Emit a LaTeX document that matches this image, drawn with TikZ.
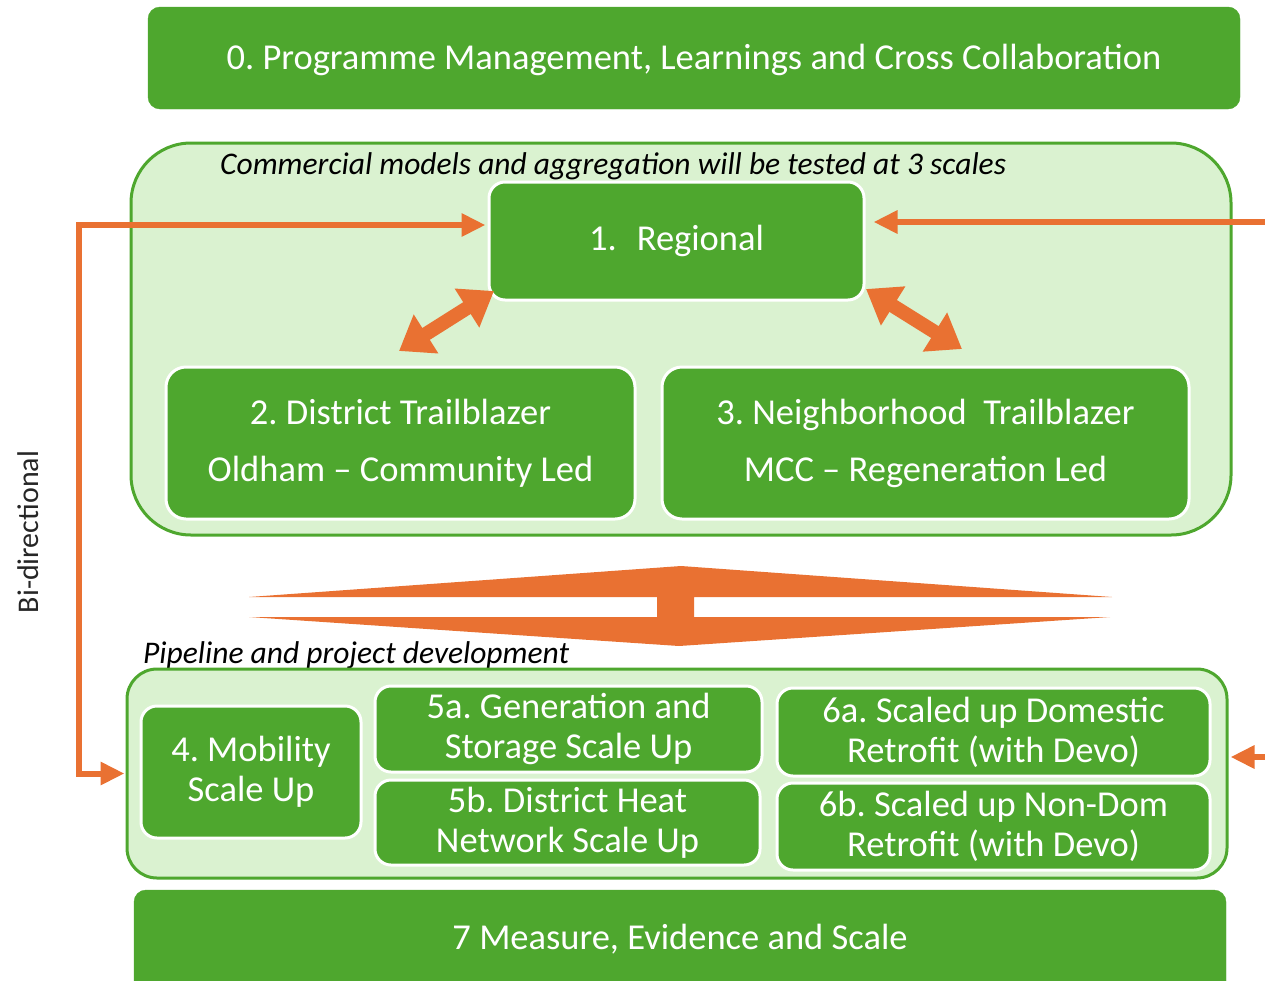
\documentclass[tikz,border=0pt]{standalone}
\usepackage{fontspec}
\setmainfont{Carlito}
\frenchspacing
\usetikzlibrary{arrows.meta,calc}
\definecolor{gmain}{HTML}{4EA72E}
\definecolor{glight}{HTML}{DAF2D0}
\definecolor{oarr}{HTML}{E97132}
\tikzset{
  gbar/.style={fill=gmain, draw=gmain, rounded corners=12pt, text=white, font=\fontsize{36.5}{40}\selectfont, inner sep=0pt},
  gbox/.style={fill=gmain, draw=white, line width=3pt, rounded corners=16pt, text=white, align=center, inner sep=0pt, font=\fontsize{36.5}{40}\selectfont},
  container/.style={fill=glight, draw=gmain, line width=3pt, inner sep=0pt},
  capt/.style={font=\fontsize{31.5}{36}\selectfont\itshape, text=black, inner sep=0pt, anchor=west},
  oline/.style={draw=oarr, line width=6pt},
  otip/.tip={Triangle[length=24pt,width=22pt]},
  fattip/.tip={Triangle[length=32pt,width=44pt]},
  fatarrow/.style={draw=oarr, line width=14pt, fattip-fattip}
}
\begin{document}
\begin{tikzpicture}[x=1pt,y=-1pt]
\useasboundingbox (0,0) rectangle (1265,980);
% top bar
\node[gbar, minimum width=1092pt, minimum height=102pt] (top) at (694,58) {};
\node[text=white, font=\fontsize{36.5}{40}\selectfont, inner sep=0pt] (topT) at (694,60) {0. Programme Management, Learnings and Cross Collaboration};
% upper container
\node[container, rounded corners=60pt, minimum width=1100pt, minimum height=392pt] (upper) at (681,339) {};
\node[capt] (captU) at (220,166) {Commercial models and aggregation will be tested at 3 scales};
\node[gbox, minimum width=375pt, minimum height=118pt] (reg) at (676.5,241) {1.\hspace{0.55em}Regional};
\node[gbox, rounded corners=20pt, minimum width=469pt, minimum height=152pt, font=\fontsize{36.5}{57}\selectfont] (dist) at (400.5,443) {2. District Trailblazer\\Oldham -- Community Led};
\node[gbox, rounded corners=20pt, minimum width=527pt, minimum height=152pt, font=\fontsize{36.5}{57}\selectfont] (neigh) at (925.5,443) {3. Neighborhood\ \ Trailblazer\\MCC -- Regeneration Led};
% fat double arrows
\coordinate (lA) at (494,291);
\coordinate (lB) at (399,351);
\coordinate (rA) at (866,289);
\coordinate (rB) at (962,349);
\draw[fatarrow] (lA) -- (lB);
\draw[fatarrow] (rA) -- (rB);
% big vertical double arrow
\fill[oarr] (681,566) -- (1112,597) -- (694,597) -- (694,617) -- (1110,617) -- (679,646) -- (249,617) -- (657,617) -- (657,597) -- (249,597) -- cycle;
% lower container
\node[capt] (captL) at (143,655) {Pipeline and project development};
\node[container, rounded corners=30pt, minimum width=1100pt, minimum height=209pt] (lower) at (677,773.5) {};
\node[gbox, minimum width=220pt, minimum height=132pt] (mob) at (251,772) {4. Mobility\\Scale Up};
\node[gbox, minimum width=387pt, minimum height=86pt] (gen) at (568.5,729) {5a. Generation and\\Storage Scale Up};
\node[gbox, minimum width=385pt, minimum height=85pt] (heat) at (567.5,822.5) {5b. District Heat\\Network Scale Up};
\node[gbox, minimum width=433pt, minimum height=88pt] (dom) at (993.5,732) {6a. Scaled up Domestic\\Retrofit (with Devo)};
\node[gbox, minimum width=433pt, minimum height=87pt] (ndom) at (993.5,826.5) {6b. Scaled up Non-Dom\\Retrofit (with Devo)};
% bottom bar
\node[gbar, minimum width=1092pt, minimum height=110pt] (bot) at (680,945) {};
\node[text=white, font=\fontsize{36.5}{40}\selectfont, inner sep=0pt] (botT) at (680,939) {7 Measure, Evidence and Scale};
% orange connectors
\draw[oline, otip-otip, line join=miter] ([yshift=16pt,xshift=-2pt]reg.west) -| ($(lower.west)+(-47,0)$) -- ([xshift=-1pt]lower.west);
\coordinate (eR1) at (1270,222);
\coordinate (eR2) at (1270,757);
\draw[oline, -otip] (eR1) -- ([yshift=19pt,xshift=8pt]reg.east);
\draw[oline, -otip] (eR2) -- ([yshift=16.5pt,xshift=2pt]lower.east);
% side label
\node[rotate=90, font=\fontsize{30}{34}\selectfont, text=black!85, inner sep=0pt] (bidir) at (28,532) {Bi-directional};
\end{tikzpicture}
\end{document}
